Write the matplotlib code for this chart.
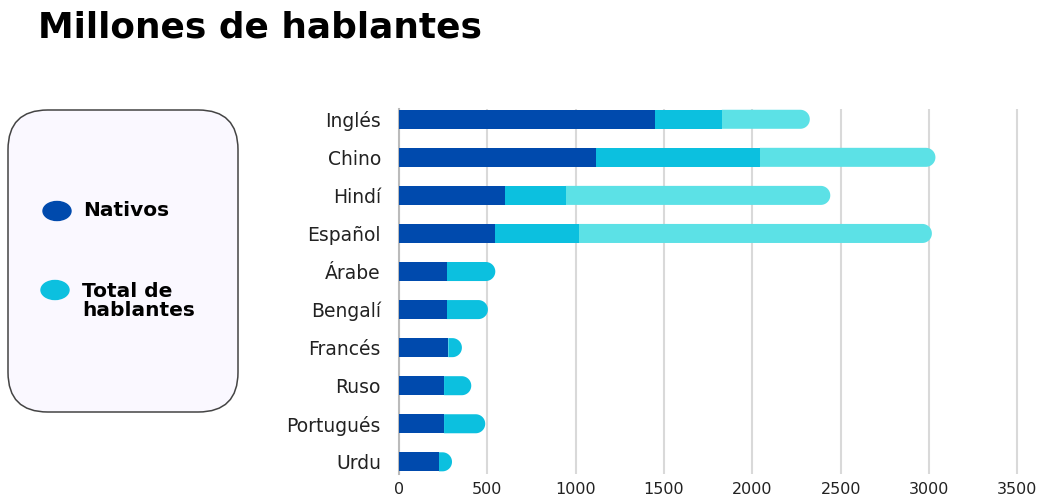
import matplotlib
matplotlib.use("Agg")
import numpy as np
import matplotlib.pyplot as plt
from matplotlib.patches import FancyBboxPatch, Ellipse, Polygon

plt.rcParams['font.family'] = ['DejaVu Sans']

languages = ["Inglés", "Chino", "Hindí", "Español", "Árabe", "Bengalí",
             "Francés", "Ruso", "Portugués", "Urdu"]
nativos = [1450, 1116, 598, 545, 271, 270, 279, 255, 255, 226]
segundo = [377, 926, 345, 473, 274, 233, 77, 154, 233, 74]
tercero = [498, 994, 1498, 1998, 0, 0, 0, 0, 0, 0]
xticks = [0, 500, 1000, 1500, 2000, 2500, 3000, 3500]

c_dark = "#004AAD"
c_mid = "#0CC0DF"
c_light = "#5CE1E6"

W, H = 1045, 497
fig = plt.figure(figsize=(W / 100, H / 100), dpi=100)
ax_l, ax_r, ax_t, ax_b = 399, 1028, 109, 474
ax = fig.add_axes([ax_l / W, 1 - ax_b / H, (ax_r - ax_l) / W, (ax_b - ax_t) / H])
xmax = 3560
ylo, yhi = 9.32, -0.27
ax.set_xlim(0, xmax)
ax.set_ylim(ylo, yhi)

bar_h = 0.5
px_per_unit = (ax_r - ax_l) / xmax
px_per_cat = (ax_b - ax_t) / (ylo - yhi)
bar_px = bar_h * px_per_cat
r_units = (bar_px / 2) / px_per_unit

theta = np.linspace(-np.pi / 2, np.pi / 2, 40)
for i, lang in enumerate(languages):
    segs = [(nativos[i], c_dark), (segundo[i], c_mid), (tercero[i], c_light)]
    segs = [s for s in segs if s[0] > 0]
    left = 0
    for j, (w, col) in enumerate(segs):
        if j == len(segs) - 1:
            end = left + w
            cx = end - r_units
            arc_x = cx + r_units * np.cos(theta)
            arc_y = i + (bar_h / 2) * np.sin(theta)
            xs = np.concatenate([[left], arc_x, [left]])
            ys = np.concatenate([[i - bar_h / 2], arc_y, [i + bar_h / 2]])
            ax.add_patch(Polygon(np.column_stack([xs, ys]), closed=True,
                                 facecolor=col, edgecolor='none', zorder=3))
        else:
            ax.barh(i, w, left=left, height=bar_h, color=col, linewidth=0, zorder=4)
        left += w

ax.set_yticks(range(len(languages)))
ax.set_yticklabels(languages, fontsize=13.5, color="#222222")
ax.set_xticks(xticks)
ax.set_xticklabels([str(t) for t in xticks], fontsize=11.5, color="#222222")
ax.tick_params(axis='both', length=0)
ax.tick_params(axis='y', pad=13)
ax.tick_params(axis='x', pad=6)
ax.grid(axis='x', color="#d9d9d9", linewidth=1.5, zorder=0)
ax.set_axisbelow(True)
for s in ['top', 'right', 'bottom']:
    ax.spines[s].set_visible(False)
ax.spines['left'].set_color("#bbbbbb")
ax.spines['left'].set_linewidth(1.5)

fig.text(38 / W, 1 - 28 / H, "Millones de hablantes", fontsize=25.8,
         fontweight='bold', color="black", va='center', ha='left')

# legend box
box = FancyBboxPatch((8 / W, 1 - 412 / H), (238 - 8) / W, (412 - 110) / H,
                     boxstyle="round,pad=0,rounding_size=0.038",
                     transform=fig.transFigure, facecolor="#faf8ff",
                     edgecolor="#444444", linewidth=1.1,
                     mutation_aspect=W / H)
fig.patches.append(box)
fig.patches.append(Ellipse((57 / W, 1 - 211 / H), 28 / W, 19 / H,
                           transform=fig.transFigure, color=c_dark))
fig.patches.append(Ellipse((55 / W, 1 - 290 / H), 28 / W, 19 / H,
                           transform=fig.transFigure, color=c_mid))
fig.text(83 / W, 1 - 211 / H, "Nativos", fontsize=14.5, fontweight='bold',
         va='center', ha='left')
fig.text(82 / W, 1 - 301 / H, "Total de\nhablantes", fontsize=14.5,
         fontweight='bold', va='center', ha='left', linespacing=1.05)

fig.savefig("out.png", dpi=100)
